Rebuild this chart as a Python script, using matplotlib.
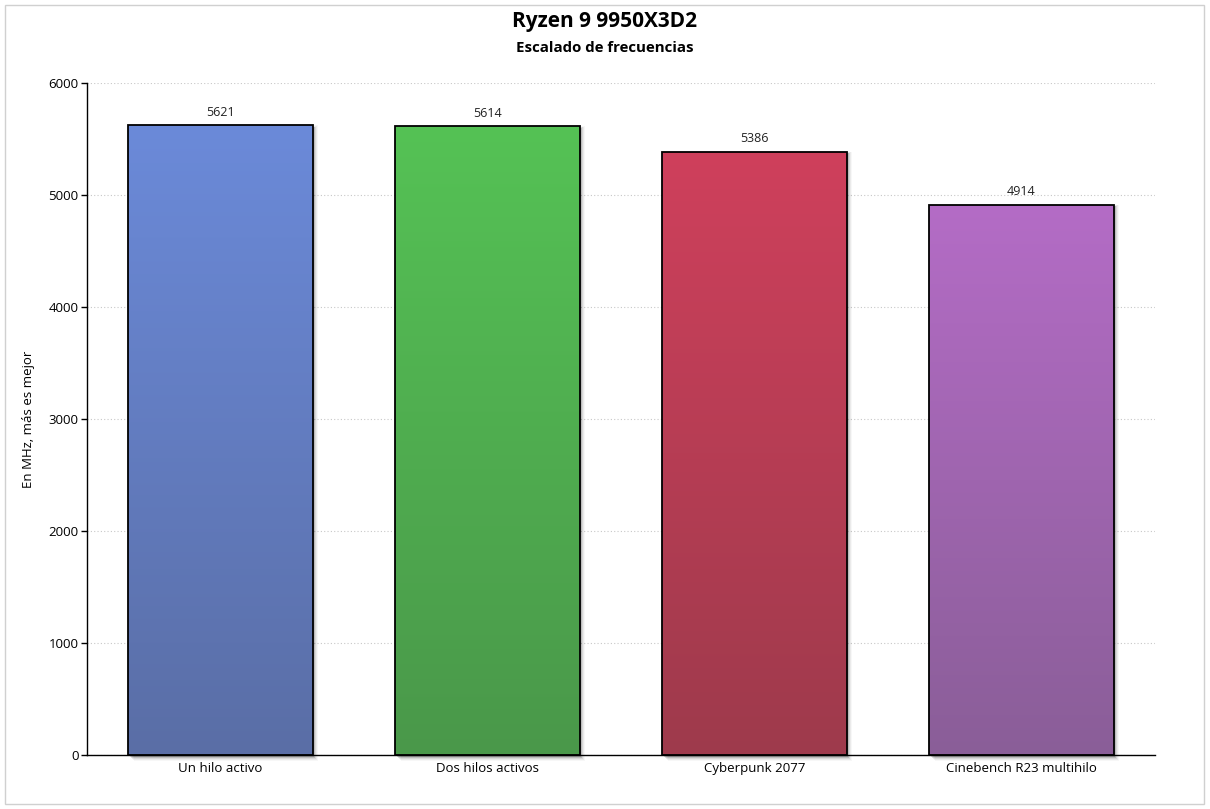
import matplotlib
matplotlib.use("Agg")
import matplotlib.pyplot as plt
import numpy as np
from matplotlib.patches import Rectangle
from matplotlib.colors import LinearSegmentedColormap

plt.rcParams['font.family'] = ['Open Sans', 'DejaVu Sans']

categories = ["Un hilo activo", "Dos hilos activos", "Cyberpunk 2077", "Cinebench R23 multihilo"]
values = [5621, 5614, 5386, 4914]
top_colors = ["#6b8ad9", "#55c255", "#cf405c", "#b46cc6"]
bottom_colors = ["#5a6ea6", "#4a984a", "#9e3a4c", "#8a5e98"]
yticks = [0, 1000, 2000, 3000, 4000, 5000, 6000]

fig = plt.figure(figsize=(12.1, 8.09), dpi=100)
fig.patches.append(Rectangle((5 / 1210, 5 / 809), 1199 / 1210, 799 / 809,
                             transform=fig.transFigure, fill=False,
                             edgecolor="#d0d0d0", linewidth=1))
ax = fig.add_axes([87 / 1210, 1 - 755 / 809, (1155 - 87) / 1210, (755 - 83) / 809])

width = 0.69
x = np.arange(len(categories))
ax.set_xlim(-0.5, len(categories) - 0.5)
ax.set_ylim(0, 6000)

for xi, v, ct, cb in zip(x, values, top_colors, bottom_colors):
    # soft shadow, offset right and down
    for k, a in enumerate([0.16, 0.12, 0.08, 0.05, 0.03]):
        dx = 0.006 + 0.004 * k
        dy = 15 + 10 * k
        ax.add_patch(Rectangle((xi - width / 2 + dx, -dy), width, v + dy - 20 + 5 * k,
                               facecolor="black", alpha=a, edgecolor="none",
                               zorder=1, clip_on=False))
    cmap = LinearSegmentedColormap.from_list("g", [cb, ct])
    grad = np.linspace(0, 1, 256).reshape(-1, 1)
    im = ax.imshow(grad, cmap=cmap, aspect="auto", origin="lower",
                   extent=(xi - width / 2, xi + width / 2, 0, v), zorder=2)
    bar = ax.bar(xi, v, width=width, facecolor="none", edgecolor="black",
                 linewidth=1.3, zorder=3)[0]
    im.set_clip_path(bar)
    ax.text(xi, v + 60, str(v), ha="center", va="bottom", fontsize=9, color="#222222")

ax.set_xlim(-0.5, len(categories) - 0.5)
ax.set_ylim(0, 6000)
ax.set_xticks(x)
ax.set_xticklabels(categories, fontsize=9.5)
ax.set_yticks(yticks)
ax.set_yticklabels([str(t) for t in yticks], fontsize=9.5)
ax.tick_params(axis="x", length=0, pad=5)
ax.tick_params(axis="y", length=4, width=1, pad=2)
ax.yaxis.grid(True, linestyle=(0, (1, 2)), color="#c8c8c8", linewidth=0.8)
ax.set_axisbelow(True)
for s in ["top", "right"]:
    ax.spines[s].set_visible(False)
ax.spines["left"].set_linewidth(1)
ax.spines["bottom"].set_linewidth(1)
ax.spines["bottom"].set_zorder(4)
ax.set_ylabel("En MHz, más es mejor", fontsize=9.5, labelpad=10)

fig.text(605 / 1210, 1 - 21 / 809, "Ryzen 9 9950X3D2", ha="center", va="center",
         fontsize=15, fontweight="bold")
fig.text(605 / 1210, 1 - 48 / 809, "Escalado de frecuencias", ha="center", va="center",
         fontsize=10.8, fontweight="bold")

fig.savefig("out.png", dpi=100)
